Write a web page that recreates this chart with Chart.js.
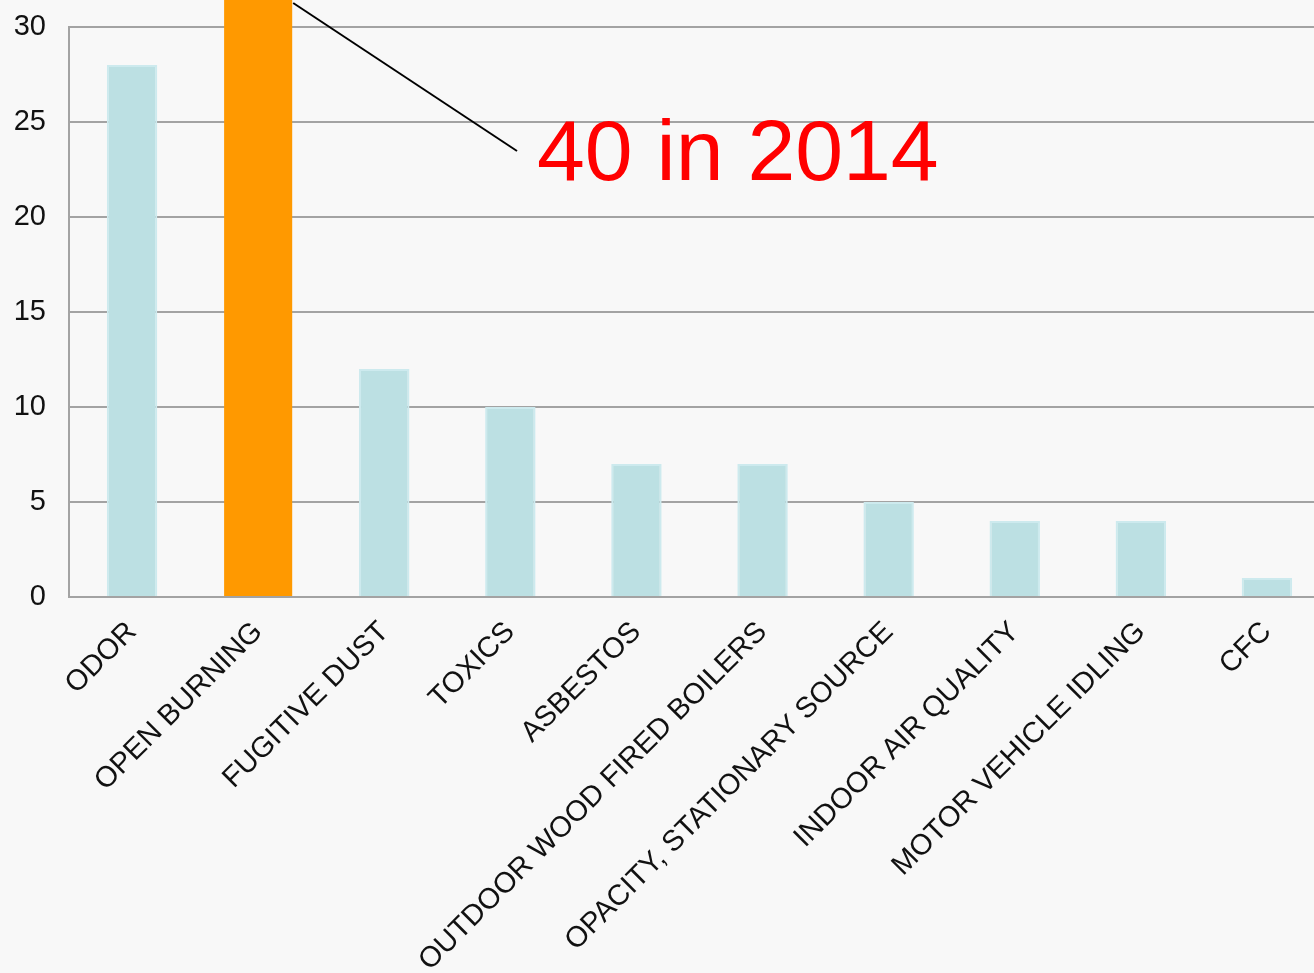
<!DOCTYPE html>
<html>
<head>
<meta charset="utf-8">
<script src="https://cdn.jsdelivr.net/npm/chart.js@4/dist/chart.umd.min.js"></script>
<style>
  html, body { margin: 0; padding: 0; background: #f8f8f8; overflow: hidden; }
  #wrap { width: 1330px; height: 973px; }
</style>
</head>
<body>
<div id="wrap"><canvas id="myChart"></canvas></div>
<script>
"use strict";

// категории и значения (жалобы по типам)
const categories = ['ODOR', 'OPEN BURNING', 'FUGITIVE DUST', 'TOXICS', 'ASBESTOS',
    'OUTDOOR WOOD FIRED BOILERS', 'OPACITY, STATIONARY SOURCE', 'INDOOR AIR QUALITY',
    'MOTOR VEHICLE IDLING', 'CFC'];
const complaints = [28, null, 12, 10, 7, 7, 5, 4, 4, 1];
const openBurning = [null, 40, null, null, null, null, null, null, null, null];
const yTicks = [0, 5, 10, 15, 20, 25, 30];
const noteYear = 2014;

const fontFamily = "'Liberation Sans', Arial, sans-serif";

// подпись со стрелкой к оранжевому столбцу
const notePlugin = {
    id: 'note',
    afterDraw(chart) {
        const ctx = chart.ctx;
        const bar = chart.getDatasetMeta(1).data[1];
        ctx.save();
        ctx.strokeStyle = '#000';
        ctx.lineWidth = 2;
        ctx.beginPath();
        ctx.moveTo(bar.x + bar.width / 2 + 1, 3);
        ctx.lineTo(517, 151);
        ctx.stroke();

        ctx.fillStyle = '#ff0000';
        ctx.font = '86px ' + fontFamily;
        ctx.textBaseline = 'alphabetic';
        ctx.textAlign = 'left';
        ctx.fillText(openBurning[1] + ' in ' + noteYear, 537, 180);
        ctx.restore();
    }
};

const ctx = document.getElementById('myChart');
const myChart = new Chart(ctx, {
    type: 'bar',
    data: {
        labels: categories,
        datasets: [{
            data: complaints,
            backgroundColor: '#bce0e3',
            borderColor: '#cdeaee',
            borderWidth: 2,
            barPercentage: 0.4,
            categoryPercentage: 1,
            grouped: false
        }, {
            data: openBurning,
            backgroundColor: '#ff9900',
            borderWidth: 0,
            barPercentage: 0.54,
            categoryPercentage: 1,
            grouped: false,
            clip: false
        }]
    },
    plugins: [notePlugin],
    options: {
        responsive: true,
        maintainAspectRatio: false,
        animation: false,
        layout: { padding: { top: 27, left: 0, right: 0, bottom: 0 } },
        plugins: {
            legend: { display: false },
            tooltip: { enabled: false }
        },
        scales: {
            x: {
                grid: { display: false },
                border: { color: '#a3a3a3', width: 2 },
                ticks: {
                    color: '#111',
                    font: { size: 29, family: fontFamily },
                    maxRotation: 45,
                    minRotation: 45,
                    autoSkip: false,
                    padding: 10
                },
                afterFit(scale) { scale.height = 376; }
            },
            y: {
                min: 0,
                max: 30,
                afterBuildTicks(scale) { scale.ticks = yTicks.map(v => ({ value: v })); },
                grid: { color: '#a3a3a3', lineWidth: 2, drawTicks: false },
                border: { color: '#a3a3a3', width: 2 },
                ticks: {
                    color: '#111',
                    font: { size: 29, family: fontFamily },
                    padding: 23
                },
                afterFit(scale) {
                    scale.width = 69;
                    scale.paddingTop = 0;
                }
            }
        }
    }
});
</script>
</body>
</html>
